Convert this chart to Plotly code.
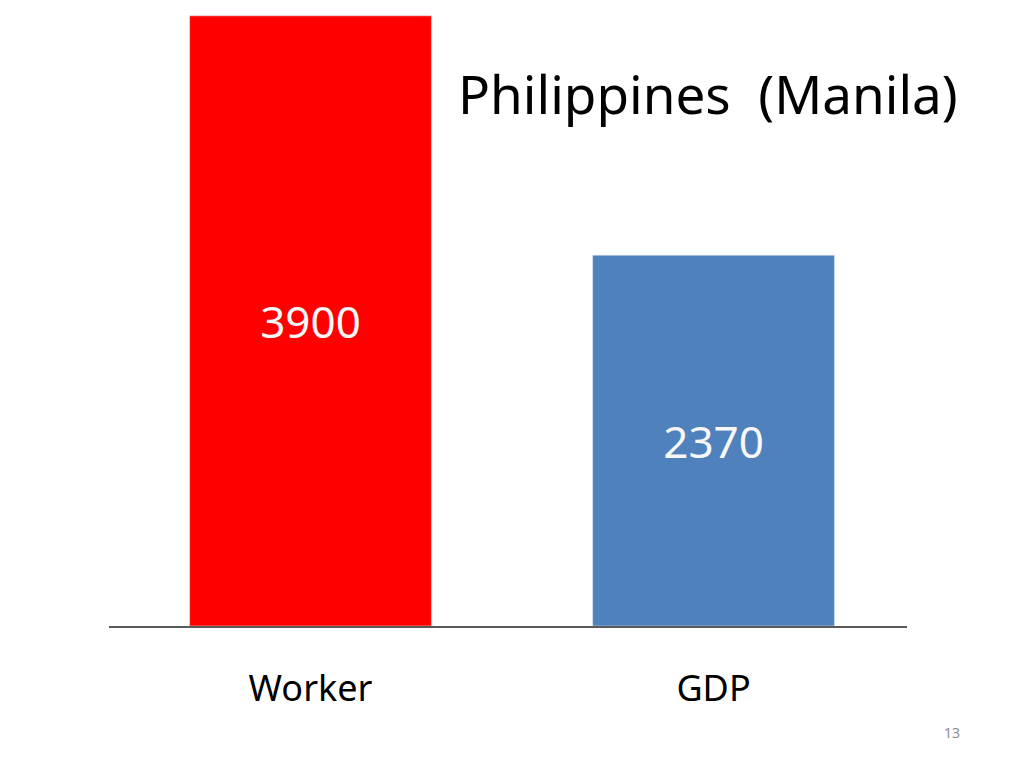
import plotly.graph_objects as go

categories = ["Worker", "GDP"]
values = [3900, 2370]
colors = ["#FF0000", "#4F81BD"]

fig = go.Figure(go.Bar(
    x=categories,
    y=values,
    marker_color=colors,
    width=0.60,
    text=[str(v) for v in values],
    textposition="inside",
    insidetextanchor="middle",
    textfont=dict(size=44, color="#F7F7F7", family="Noto Sans"),
    cliponaxis=True,
))

fig.update_layout(
    width=1024, height=768,
    margin=dict(l=101, r=125, t=0, b=150),
    plot_bgcolor="white", paper_bgcolor="white",
    showlegend=False,
    font=dict(family="Noto Sans", color="black"),
    xaxis=dict(
        showline=True, linecolor="#595959", linewidth=1.5,
        ticks="", tickfont=dict(size=36, color="black"),
        ticklabelstandoff=30, range=[-0.5, 1.48],
    ),
    yaxis=dict(visible=False, range=[0, 3950], showgrid=False),
)

fig.add_annotation(
    text="Philippines  (Manila)", xref="paper", yref="paper",
    x=1.066, y=0.861, xanchor="right", yanchor="middle",
    showarrow=False, font=dict(size=53, color="black"),
)
fig.add_annotation(
    text="13", xref="paper", yref="paper",
    x=1.056, y=-0.173, xanchor="center", yanchor="middle",
    showarrow=False, font=dict(size=14, color="#8C8C8C"),
)

fig.write_html("out.html")
